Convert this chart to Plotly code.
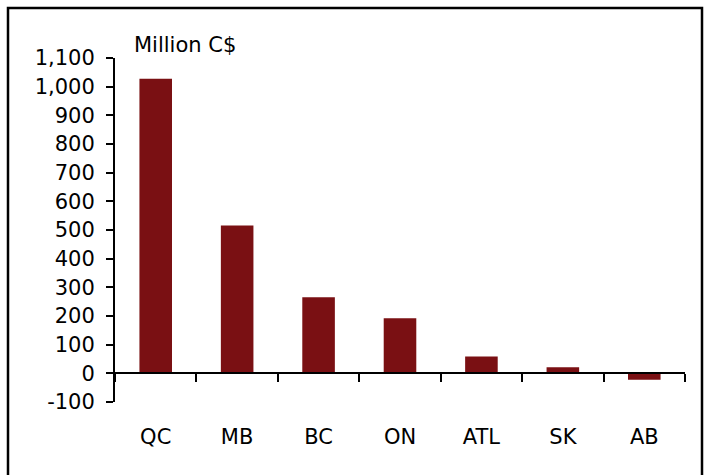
import plotly.graph_objects as go

categories = ["QC", "MB", "BC", "ON", "ATL", "SK", "AB"]
values = [1028, 516, 265, 192, 59, 21, -22]
y_ticks = [-100, 0, 100, 200, 300, 400, 500, 600, 700, 800, 900, 1000, 1100]
y_tick_labels = ["-100", "0", "100", "200", "300", "400", "500", "600", "700",
                 "800", "900", "1,000", "1,100"]
unit_label = "Million C$"

FONT = "DejaVu Sans"
fs = 21

fig = go.Figure()
fig.add_trace(go.Bar(x=categories, y=values, marker=dict(color="#7A1013", line=dict(width=0)),
                     width=0.4, xaxis="x", yaxis="y"))
# invisible trace to carry bottom category labels
fig.add_trace(go.Scatter(x=categories, y=[None]*len(categories), xaxis="x2", yaxis="y",
                         showlegend=False, hoverinfo="skip"))

zero_pos = (0 - (-100)) / 1200.0

fig.update_layout(
    width=704, height=475,
    margin=dict(l=115, r=19, t=58, b=73),
    paper_bgcolor="white", plot_bgcolor="white",
    showlegend=False,
    font=dict(family=FONT, size=fs, color="black"),
    xaxis=dict(
        type="category", anchor="free", position=zero_pos,
        showline=True, linecolor="black", linewidth=2,
        ticks="outside", tickson="boundaries", ticklen=8, tickwidth=2, tickcolor="black",
        showticklabels=False, showgrid=False, zeroline=False,
        range=[-0.5, 6.5],
    ),
    xaxis2=dict(
        type="category", overlaying="x", anchor="y", side="bottom",
        showline=False, ticks="", showgrid=False, zeroline=False,
        range=[-0.5, 6.5], tickfont=dict(family=FONT, size=fs),
        ticklabelstandoff=20,
    ),
    yaxis=dict(
        range=[-100, 1100], tickvals=y_ticks, ticktext=y_tick_labels,
        showline=True, linecolor="black", linewidth=2,
        ticks="outside", ticklen=7, tickwidth=2, tickcolor="black",
        showgrid=False, zeroline=False, tickfont=dict(family=FONT, size=fs),
        ticklabelstandoff=7,
    ),
    shapes=[dict(type="rect", xref="paper", yref="paper",
                 x0=(8 - 115) / 570, x1=(702 - 115) / 570,
                 y0=(402 - 490) / 344, y1=(402 - 8) / 344,
                 line=dict(color="black", width=2.5), fillcolor="rgba(0,0,0,0)", layer="below")],
    annotations=[dict(text=unit_label, xref="paper", yref="paper",
                      x=(132 - 115) / 570, y=(402 - 45) / 344, xanchor="left", yanchor="middle",
                      showarrow=False, font=dict(family=FONT, size=fs))],
)

fig.write_html("out.html")
